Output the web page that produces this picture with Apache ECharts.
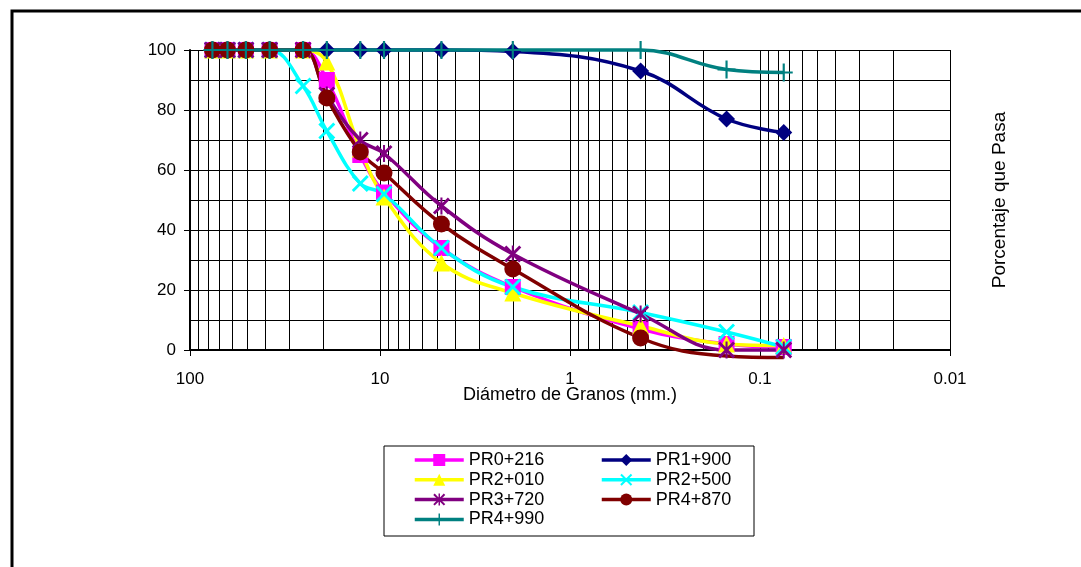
<!DOCTYPE html>
<html>
<head>
<meta charset="utf-8">
<script src="https://cdn.jsdelivr.net/npm/echarts@6/dist/echarts.min.js"></script>
<style>
html,body{margin:0;padding:0;background:#fff}
#main{width:1081px;height:567px}
</style>
</head>
<body>
<div id="main"></div>
<script>
// tamices (mm) y porcentaje que pasa de cada muestra
var tamices = [76.2, 63.5, 50.8, 38.1, 25.4, 19.05, 12.7, 9.525, 4.75, 2.0, 0.425, 0.15, 0.075];
var nombres = ['PR0+216', 'PR1+900', 'PR2+010', 'PR2+500', 'PR3+720', 'PR4+870', 'PR4+990'];
var pr0_216 = [100, 100, 100, 100, 100, 90, 65, 52.5, 34, 21, 7, 2, 1];
var pr1_900 = [100, 100, 100, 100, 100, 100, 100, 100, 100, 99.5, 93, 77, 72.5];
var pr2_010 = [100, 100, 100, 100, 100, 96, 67, 51, 29, 19, 8, 2, 1.5];
var pr2_500 = [100, 100, 100, 100, 88, 73, 55.5, 52, 34, 21, 12.5, 6, 1];
var pr3_720 = [100, 100, 100, 100, 100, 85, 70, 65.5, 48, 32, 12, 0, 0];
var pr4_870 = [100, 100, 100, 100, 100, 84, 66, 59, 42, 27, 4, -2, -2.5];
var pr4_990 = [100, 100, 100, 100, 100, 100, 100, 100, 100, 100, 100, 93.5, 92.5];
var marcasX = [100, 10, 1, 0.1, 0.01];
var marcasY = [0, 20, 40, 60, 80, 100];

var datos = [pr0_216, pr1_900, pr2_010, pr2_500, pr3_720, pr4_870, pr4_990];
var colores = ['#FF00FF', '#000080', '#FFFF00', '#00FFFF', '#800080', '#800000', '#008080'];
var fuente = '"Liberation Sans", Arial, sans-serif';

//simbolos de Excel
var simX = 'path://M0,12L12,0L50,38L88,0L100,12L62,50L100,88L88,100L50,62L12,100L0,88L38,50Z';
var simAst = 'path://M44,0H56V100H44Z M0,12L12,0L50,38L88,0L100,12L62,50L100,88L88,100L50,62L12,100L0,88L38,50Z';
var simMas = 'path://M44,0H56V44H100V56H56V100H44V56H0V44H44Z';
var simbolos = ['rect', 'diamond', 'triangle', simX, simAst, 'circle', simMas];
var tamanos = [16, 17, 17, 17, 17, 17, 18];

//lineas menores de la escala logaritmica
var lineasMenores = [];
[0.01, 0.1, 1, 10].forEach(function(d) {
	for (var k = 2; k <= 9; k++) lineasMenores.push(k * d);
});

var myChart = echarts.init(document.getElementById('main'));

var series = nombres.map(function(n, i) {
	var s = {
		name: n,
		type: 'line',
		smooth: 0.4,
		clip: false,
		showAllSymbol: true,
		symbol: simbolos[i],
		symbolSize: tamanos[i],
		lineStyle: { width: 3.5, color: colores[i] },
		itemStyle: { color: colores[i] },
		emphasis: { disabled: true },
		data: tamices.map(function(t, k) {
			var v = datos[i][k];
			return v < 0 ? { value: [t, v], symbol: 'none' } : [t, v];
		})
	};
	if (i == 0) {
		s.markLine = {
			silent: true,
			symbol: 'none',
			z: 1,
			animation: false,
			label: { show: false },
			emphasis: { disabled: true },
			lineStyle: { color: '#000', width: 1, type: 'solid' },
			data: lineasMenores.map(function(v) { return { xAxis: v }; })
		};
	}
	return s;
});

var leyenda = {
	orient: 'vertical', top: 451, itemGap: 1.8, padding: 0,
	itemWidth: 49, itemHeight: 15, selectedMode: false,
	lineStyle: { width: 3.5 },
	textStyle: { fontSize: 18, color: '#000', fontFamily: fuente }
};

var option = {
	animation: false,
	backgroundColor: '#fff',
	textStyle: { fontFamily: fuente, color: '#000' },
	grid: { left: 190, right: 131, top: 50, bottom: 217 },
	graphic: [
		{ type: 'rect', shape: { x: 12, y: 11, width: 1200, height: 700 }, style: { fill: 'none', stroke: '#000', lineWidth: 3 }, z: -1 },
		{ type: 'rect', shape: { x: 384, y: 446, width: 370, height: 90 }, style: { fill: 'none', stroke: '#000', lineWidth: 1 } }
	],
	legend: [
		Object.assign({}, leyenda, { data: ['PR0+216', 'PR2+010', 'PR3+720', 'PR4+990'], left: 413 }),
		Object.assign({}, leyenda, { data: ['PR1+900', 'PR2+500', 'PR4+870'], left: 600 })
	],
	xAxis: {
		type: 'log', logBase: 10, min: 0.01, max: 100, inverse: true,
		name: 'Diámetro de Granos (mm.)', nameLocation: 'middle', nameGap: 36,
		nameMoveOverlap: false,
		nameTextStyle: { fontSize: 18, color: '#000', fontFamily: fuente },
		axisLine: { lineStyle: { color: '#000', width: 2 } },
		axisTick: { show: true, length: 6, lineStyle: { color: '#000' } },
		axisLabel: {
			fontSize: 17, color: '#000', margin: 21, fontFamily: fuente,
			formatter: function(v) {
				for (var i = 0; i < marcasX.length; i++) {
					if (Math.abs(Math.log10(v / marcasX[i])) < 1e-6) return String(marcasX[i]);
				}
				return '';
			}
		},
		splitLine: { show: true, lineStyle: { color: '#000', width: 1 } }
	},
	yAxis: [
		{
			type: 'value', min: marcasY[0], max: marcasY[marcasY.length - 1], interval: 20,
			axisLine: { show: true, lineStyle: { color: '#000', width: 2 } },
			axisTick: { show: true, length: 6, lineStyle: { color: '#000' } },
			axisLabel: { fontSize: 17, color: '#000', margin: 14, fontFamily: fuente },
			splitLine: { show: true, lineStyle: { color: '#000', width: 1 } },
			minorTick: { show: false, splitNumber: 2 },
			minorSplitLine: { show: true, lineStyle: { color: '#000', width: 1 } }
		},
		{
			type: 'value', min: 0, max: 100, position: 'right',
			name: 'Porcentaje que Pasa', nameLocation: 'middle', nameGap: 40, nameRotate: 90,
			nameTextStyle: { fontSize: 19, color: '#000', fontFamily: fuente },
			axisLine: { show: false }, axisTick: { show: false }, axisLabel: { show: false },
			splitLine: { show: false }
		}
	],
	series: series
};

myChart.setOption(option);
</script>
</body>
</html>
